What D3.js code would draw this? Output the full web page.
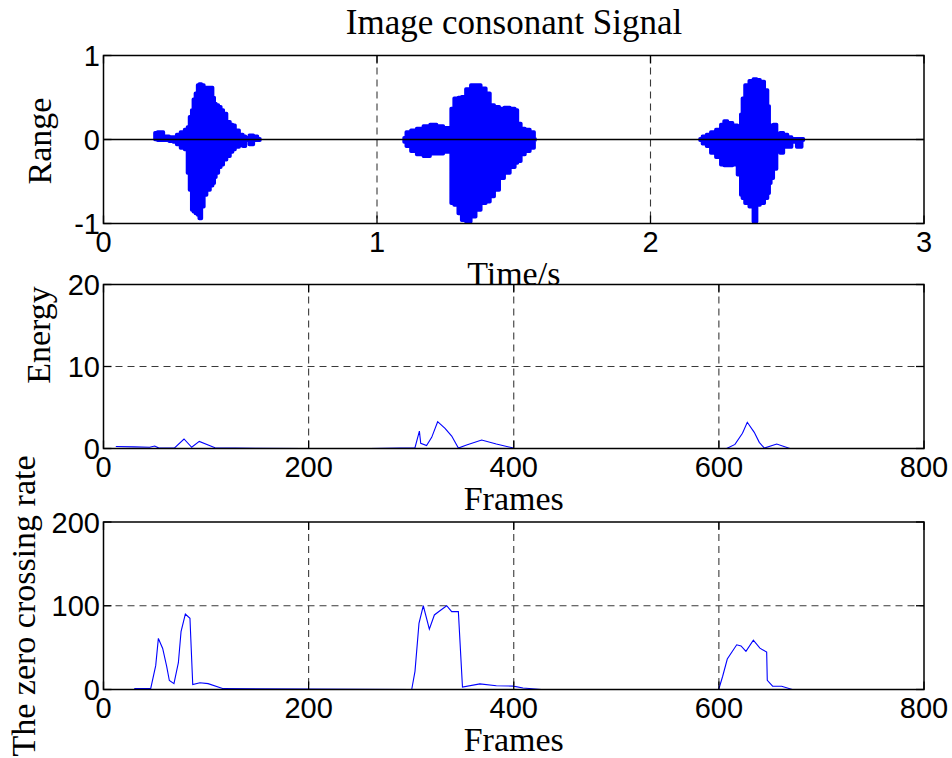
<!DOCTYPE html>
<html><head><meta charset="utf-8">
<script src="https://cdn.jsdelivr.net/npm/d3@7"></script>
<style>body{margin:0;background:#fff;} svg{display:block}</style>
</head><body><svg id="c" width="952" height="758"></svg>
<script>
// ---------- data ----------
const titleText = "Image consonant Signal";
const timeTicks = [0, 1, 2, 3];
const rangeTicks = [-1, 0, 1];
const frameTicks = [0, 200, 400, 600, 800];
const energyTicks = [0, 10, 20];
const zcrTicks = [0, 100, 200];

// signal envelope (NaN separates the three utterances)
const sigTime = [
  0.188,0.207,0.231,0.249,0.261,0.274,0.289,0.304,0.310,0.319,0.326,0.331,0.341,0.347,0.353,0.363,0.371,0.383,0.396,0.402,0.408,0.414,0.426,0.432,0.444,0.456,0.469,0.475,0.487,0.505,0.514,0.524,0.542,0.554,0.572,
  NaN,
  1.099,1.115,1.133,1.157,1.182,1.206,1.230,1.255,1.269,1.273,1.291,1.303,1.316,1.334,1.352,1.370,1.389,1.407,1.419,1.438,1.456,1.474,1.498,1.510,1.517,1.535,1.547,1.571,1.578,
  NaN,
  2.181,2.199,2.211,2.230,2.248,2.266,2.272,2.291,2.309,2.327,2.333,2.339,2.352,2.370,2.382,2.394,2.407,2.425,2.431,2.437,2.443,2.455,2.467,2.480,2.492,2.510,2.522,2.547,2.559
];
const sigUpper = [
  0.08,0.09,0.04,0.03,0.03,0.06,0.09,0.12,0.15,0.27,0.35,0.48,0.55,0.65,0.66,0.65,0.62,0.62,0.62,0.50,0.43,0.41,0.39,0.35,0.31,0.21,0.18,0.17,0.11,0.06,0.04,0.02,0.05,0.04,0.01,
  NaN,
  0.02,0.09,0.11,0.13,0.16,0.18,0.16,0.14,0.11,0.37,0.49,0.50,0.51,0.60,0.65,0.65,0.61,0.55,0.41,0.39,0.37,0.38,0.37,0.35,0.19,0.13,0.12,0.09,0.01,
  NaN,
  0.01,0.04,0.06,0.09,0.12,0.18,0.22,0.20,0.17,0.13,0.30,0.49,0.65,0.70,0.72,0.71,0.69,0.59,0.40,0.17,0.17,0.18,0.07,0.08,0.06,0.03,0.01,0.01,0.01
];
const sigLower = [
  0.00,-0.01,-0.01,-0.02,-0.03,-0.06,-0.10,-0.12,-0.40,-0.60,-0.84,-0.86,-0.88,-0.90,-0.94,-0.80,-0.66,-0.60,-0.55,-0.52,-0.45,-0.40,-0.33,-0.30,-0.24,-0.20,-0.15,-0.12,-0.09,-0.07,-0.08,-0.01,-0.06,-0.01,-0.01,
  NaN,
  -0.03,-0.08,-0.14,-0.18,-0.20,-0.17,-0.17,-0.15,-0.12,-0.76,-0.78,-0.88,-0.96,-0.98,-0.92,-0.84,-0.76,-0.74,-0.68,-0.60,-0.46,-0.40,-0.33,-0.28,-0.26,-0.18,-0.14,-0.10,-0.01,
  NaN,
  -0.01,-0.05,-0.08,-0.16,-0.21,-0.30,-0.31,-0.31,-0.30,-0.42,-0.66,-0.70,-0.76,-0.80,-0.98,-0.78,-0.76,-0.70,-0.64,-0.52,-0.46,-0.35,-0.05,-0.16,-0.09,-0.09,-0.03,-0.09,-0.01
];

const energyFrame = [12,30,45,50,54,69,78.5,86,93.4,108.7,150,195,260,303.7,308,309.3,315,320,325.8,333,339.5,346,354,368.7,383,399.6, NaN, 607.6,615.7,623,627.7,634.5,639.4,644.3,656.4,669.3];
const energyValue = [0.25,0.2,0.15,0.3,0.05,0.05,1.16,0.15,0.87,0.1,0.02,0.0,0.0,0.1,2.13,0.63,0.35,1.36,3.27,2.46,1.52,0.05,0.43,1.04,0.55,0.05, NaN, 0,0.5,1.85,3.2,1.97,0.75,0.05,0.55,0];

const zcrFrame = [30,46,50.9,53.5,57.7,61.6,64.2,68.7,73,75.6,79.8,84.3,87,94,102,116.8,197,300.5,303.7,307.6,311.8,317.7,322.6,328,334.6,339.5,346,350,367,383,399.6,409,427, NaN, 599.8,603.7,608.2,617.4,621.6,626.4,633.6,640,646.6,647.2,652.4,661.2,671.6];
const zcrValue = [1,1,28.5,61,49,27.6,10.7,7,32,69,90,85,6,8,7,1,0.5,0,21.7,79,100,72,89,94,100,93,93,3,6.7,4.5,4,1.8,0, NaN, 0,15.8,36.4,53.4,52,45.5,59,49.4,44.6,11,3.9,3.9,0];

// ---------- layout ----------
const svg = d3.select("#c");
const L = 103.5, R = 924;
const tickFont = "'Liberation Sans', Arial, sans-serif";
const labFont = "'Liberation Serif', 'Times New Roman', serif";

function panel(opt) {
  const x = d3.scaleLinear().domain(opt.xDomain).range([L, R]);
  const y = d3.scaleLinear().domain(opt.yDomain).range([opt.bottom, opt.top]);
  const g = svg.append("g");
  // grid
  const xi = opt.xTicks.slice(1, -1), yi = opt.yTicks.slice(1, -1);
  g.selectAll(null).data(xi).join("line")
    .attr("x1", d => x(d)).attr("x2", d => x(d)).attr("y1", opt.top).attr("y2", opt.bottom)
    .attr("stroke", "#3a3a3a").attr("stroke-width", 1.1).attr("stroke-dasharray", "7,5");
  g.selectAll(null).data(yi).join("line")
    .attr("y1", d => y(d)).attr("y2", d => y(d)).attr("x1", L).attr("x2", R)
    .attr("stroke", "#3a3a3a").attr("stroke-width", 1.1).attr("stroke-dasharray", "7,5");
  opt.draw(g, x, y);
  // ticks (inside, all four sides)
  const tl = 8;
  opt.xTicks.forEach(d => {
    g.append("line").attr("x1", x(d)).attr("x2", x(d)).attr("y1", opt.bottom).attr("y2", opt.bottom - tl).attr("stroke", "#000").attr("stroke-width", 1.3);
    g.append("line").attr("x1", x(d)).attr("x2", x(d)).attr("y1", opt.top).attr("y2", opt.top + tl).attr("stroke", "#000").attr("stroke-width", 1.3);
  });
  opt.yTicks.forEach(d => {
    g.append("line").attr("x1", L).attr("x2", L + tl).attr("y1", y(d)).attr("y2", y(d)).attr("stroke", "#000").attr("stroke-width", 1.3);
    g.append("line").attr("x1", R).attr("x2", R - tl).attr("y1", y(d)).attr("y2", y(d)).attr("stroke", "#000").attr("stroke-width", 1.3);
  });
  // box
  g.append("rect").attr("x", L).attr("y", opt.top).attr("width", R - L).attr("height", opt.bottom - opt.top)
    .attr("fill", "none").attr("stroke", "#000").attr("stroke-width", 1.5);
  // tick labels
  g.selectAll(null).data(opt.xTicks).join("text")
    .attr("x", d => x(d)).attr("y", opt.bottom + 28.5).attr("text-anchor", "middle")
    .attr("font-family", tickFont).attr("font-size", 29).text(d => d);
  g.selectAll(null).data(opt.yTicks).join("text")
    .attr("x", 100).attr("y", d => y(d) + 10.5).attr("text-anchor", "end")
    .attr("font-family", tickFont).attr("font-size", 29).text(d => d);
  // axis labels
  g.append("text").attr("x", (L + R) / 2).attr("y", opt.bottom + 61.5).attr("text-anchor", "middle")
    .attr("font-family", labFont).attr("font-size", 34).text(opt.xLabel);
  g.append("text").attr("transform", `translate(${opt.yLabelX},${opt.yLabelY}) rotate(-90)`)
    .attr("text-anchor", "middle").attr("font-family", labFont).attr("font-size", 34).text(opt.yLabel);
}

// Title
svg.append("text").attr("x", 514).attr("y", 33.5).attr("text-anchor", "middle")
  .attr("font-family", labFont).attr("font-size", 35).text(titleText);

// Panel 1: signal
panel({
  top: 55.5, bottom: 223.5, xDomain: [0, 3], yDomain: [-1, 1],
  xTicks: timeTicks, yTicks: rangeTicks, xLabel: "Time/s", yLabel: "Range",
  yLabelX: 50.5, yLabelY: 141,
  draw: (g, x, y) => {
    const idx = d3.range(sigTime.length);
    const area = d3.area().defined(i => !isNaN(sigTime[i])).curve(d3.curveStep)
      .x(i => x(sigTime[i])).y0(i => y(sigLower[i])).y1(i => y(sigUpper[i]));
    g.append("path").attr("d", area(idx)).attr("fill", "#0000ff")
      .attr("stroke", "#0000ff").attr("stroke-width", 3.5).attr("stroke-linejoin", "round");
    g.append("line").attr("x1", x(0)).attr("x2", x(3)).attr("y1", y(0)).attr("y2", y(0))
      .attr("stroke", "#000").attr("stroke-width", 1.3);
  }
});

// Panel 2: energy
panel({
  top: 284.5, bottom: 448.5, xDomain: [0, 800], yDomain: [0, 20],
  xTicks: frameTicks, yTicks: energyTicks, xLabel: "Frames", yLabel: "Energy",
  yLabelX: 49.5, yLabelY: 335,
  draw: (g, x, y) => {
    const idx = d3.range(energyFrame.length);
    const line = d3.line().defined(i => !isNaN(energyFrame[i]))
      .x(i => x(energyFrame[i])).y(i => y(energyValue[i]));
    g.append("path").attr("d", line(idx)).attr("fill", "none").attr("stroke", "#0000ff").attr("stroke-width", 1.1);
  }
});

// Panel 3: zero crossing rate
panel({
  top: 522, bottom: 689.5, xDomain: [0, 800], yDomain: [0, 200],
  xTicks: frameTicks, yTicks: zcrTicks, xLabel: "Frames", yLabel: "The zero crossing rate",
  yLabelX: 34.5, yLabelY: 606,
  draw: (g, x, y) => {
    const idx = d3.range(zcrFrame.length);
    const line = d3.line().defined(i => !isNaN(zcrFrame[i]))
      .x(i => x(zcrFrame[i])).y(i => y(zcrValue[i]));
    g.append("path").attr("d", line(idx)).attr("fill", "none").attr("stroke", "#0000ff").attr("stroke-width", 1.1);
  }
});
</script></body></html>
